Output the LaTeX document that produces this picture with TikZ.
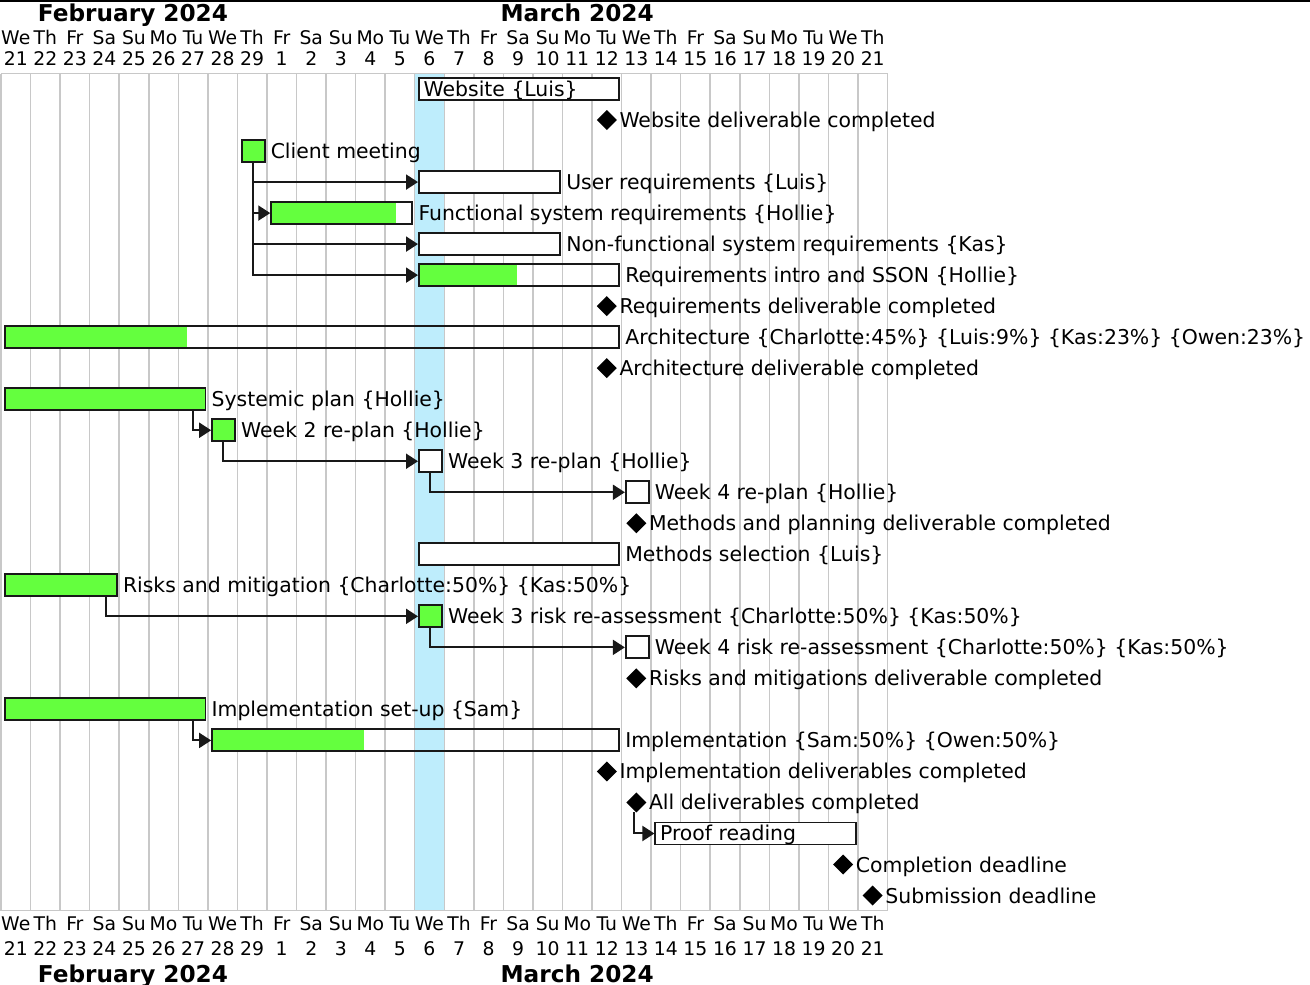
\documentclass[tikz,border=0pt]{standalone}
\usepackage{fontspec}
\setmainfont{DejaVu Sans}
\usetikzlibrary{arrows.meta,calc}
\definecolor{done}{RGB}{100,255,62}
\definecolor{today}{RGB}{190,237,252}
\definecolor{gridc}{RGB}{200,200,200}
\definecolor{barc}{RGB}{24,24,24}
\tikzset{
  taskbar/.style={draw=barc,line width=1.9pt,fill=white,rectangle,inner sep=0pt,minimum height=22pt,anchor=west},
  tlabel/.style={anchor=base west,inner sep=0pt,font=\fontsize{20.4}{22}\selectfont},
  dep/.style={draw=barc,line width=2pt,-{Triangle[length=12pt,width=15pt]}},
  ms/.style={fill=black},
  dayl/.style={anchor=base,inner sep=0pt,font=\fontsize{18.8}{20}\selectfont},
  monl/.style={anchor=base,inner sep=0pt,font=\fontsize{23.2}{24}\selectfont\bfseries},
}
\newcommand{\gbar}[6]{% name, x, width, y, greenwidth, label
  \fill[done] (#2,#4-11) rectangle ++(#5,22);
  \node[taskbar,fill=none,minimum width=#3pt] (#1) at (#2,#4) {};
  \node[tlabel] (#1l) at ($(#1.east)+(5,7.5)$) {#6};
}
\newcommand{\wbar}[5]{% name, x, width, y, label
  \node[taskbar,minimum width=#3pt] (#1) at (#2,#4) {};
  \node[tlabel] (#1l) at ($(#1.east)+(5,7.5)$) {#5};
}
\newcommand{\mstone}[4]{% name, x, y, label
  \path[ms] (#2-10,#3) -- (#2,#3-10) -- (#2+10,#3) -- (#2,#3+10) -- cycle;
  \coordinate (#1) at (#2,#3+10);
  \node[tlabel] (#1l) at (#2+12.5,#3+7.5) {#4};
}
\begin{document}
\begin{tikzpicture}[x=1pt,y=-1pt]
\useasboundingbox (0,0) rectangle (1310,985);
\fill[white] (0,0) rectangle (1310,985);
\draw[black,line width=1.5pt] (0,0.75) -- (1310,0.75);
% today
\fill[today] (414.7,73.5) rectangle (444.25,910.5);
% grid
\foreach \i in {0,...,30}{
  \draw[gridc,line width=1.5pt] ({1+29.55*\i},73.5) -- ({1+29.55*\i},910.5);
}
\draw[gridc,line width=1.5pt] (1,73.5) -- (887.5,73.5);
\draw[gridc,line width=1.5pt] (1,910.5) -- (887.5,910.5);
% headers
\foreach \d [count=\i from 0] in {We,Th,Fr,Sa,Su,Mo,Tu,We,Th,Fr,Sa,Su,Mo,Tu,We,Th,Fr,Sa,Su,Mo,Tu,We,Th,Fr,Sa,Su,Mo,Tu,We,Th}{
  \node[dayl] at ({1+29.55*(\i+0.5)},45) {\d};
  \node[dayl] at ({1+29.55*(\i+0.5)},930) {\d};
}
\foreach \n [count=\i from 0] in {21,22,23,24,25,26,27,28,29,1,2,3,4,5,6,7,8,9,10,11,12,13,14,15,16,17,18,19,20,21}{
  \node[dayl] at ({1+29.55*(\i+0.5)},65) {\n};
  \node[dayl] at ({1+29.55*(\i+0.5)},955) {\n};
}
\node[monl] (feb) at (133,21) {February 2024};
\node[monl] (mar) at (577.2,21) {March 2024};
\node[monl] (febb) at (133,982) {February 2024};
\node[monl] (marb) at (577.2,982) {March 2024};
% tasks
\node[taskbar,minimum width=200.25pt] (web) at (418,89) {};
\node[tlabel] (webl) at ($(web.west)+(5.5,7.5)$) {Website \{Luis\}};
\mstone{webm}{606.8}{120.02}{Website deliverable completed}
\gbar{client}{240.7}{22.95}{151.04}{22.95}{Client meeting}
\wbar{userreq}{418}{141.15}{182.06}{User requirements \{Luis\}}
\gbar{func}{270.25}{141.15}{213.08}{125.3}{Functional system requirements \{Hollie\}}
\wbar{nonfunc}{418}{141.15}{244.1}{Non-functional system requirements \{Kas\}}
\gbar{reqintro}{418}{200.25}{275.12}{98.8}{Requirements intro and SSON \{Hollie\}}
\mstone{reqm}{606.8}{306.14}{Requirements deliverable completed}
\gbar{arch}{4.3}{613.95}{337.16}{182.7}{Architecture \{Charlotte:45\%\} \{Luis:9\%\} \{Kas:23\%\} \{Owen:23\%\}}
\mstone{archm}{606.8}{368.18}{Architecture deliverable completed}
\gbar{sys}{4.3}{200.25}{399.2}{200.25}{Systemic plan \{Hollie\}}
\gbar{wk2}{211.15}{22.95}{430.22}{22.95}{Week 2 re-plan \{Hollie\}}
\wbar{wk3}{418}{22.95}{461.24}{Week 3 re-plan \{Hollie\}}
\wbar{wk4}{624.85}{22.95}{492.26}{Week 4 re-plan \{Hollie\}}
\mstone{methm}{636.3}{523.28}{Methods and planning deliverable completed}
\wbar{methsel}{418}{200.25}{554.3}{Methods selection \{Luis\}}
\gbar{risks}{4.3}{111.6}{585.32}{111.6}{Risks and mitigation \{Charlotte:50\%\} \{Kas:50\%\}}
\gbar{wk3r}{418}{22.95}{616.34}{22.95}{Week 3 risk re-assessment \{Charlotte:50\%\} \{Kas:50\%\}}
\wbar{wk4r}{624.85}{22.95}{647.36}{Week 4 risk re-assessment \{Charlotte:50\%\} \{Kas:50\%\}}
\mstone{riskm}{636.3}{678.38}{Risks and mitigations deliverable completed}
\gbar{implsetup}{4.3}{200.25}{709.4}{200.25}{Implementation set-up \{Sam\}}
\gbar{impl}{211.15}{407.1}{740.42}{152.8}{Implementation \{Sam:50\%\} \{Owen:50\%\}}
\mstone{implm}{606.8}{771.44}{Implementation deliverables completed}
\mstone{allm}{636.3}{802.46}{All deliverables completed}
\node[taskbar,minimum width=200.25pt] (proof) at (654.4,833.48) {};
\node[tlabel] (proofl) at ($(proof.west)+(5.5,7.5)$) {Proof reading};
\mstone{compm}{843.2}{864.5}{Completion deadline}
\mstone{subm}{872.7}{895.52}{Submission deadline}
% dependencies
\draw[dep] ($(client.south)+(-0.3,0)$) |- (userreq.west);
\draw[dep] ($(client.south)+(-0.3,0)$) |- (func.west);
\draw[dep] ($(client.south)+(-0.3,0)$) |- (nonfunc.west);
\draw[dep] ($(client.south)+(-0.3,0)$) |- (reqintro.west);
\draw[dep] ($(sys.south east)+(-13.5,0)$) |- (wk2.west);
\draw[dep] ($(wk2.south)+(-1,0)$) |- (wk3.west);
\draw[dep] (wk3.south) |- (wk4.west);
\draw[dep] ($(risks.south east)+(-11.5,0)$) |- (wk3r.west);
\draw[dep] (wk3r.south) |- (wk4r.west);
\draw[dep] ($(implsetup.south east)+(-13.5,0)$) |- (impl.west);
\draw[dep] ($(allm)+(-2,0)$) |- (proof.west);
\end{tikzpicture}
\end{document}
